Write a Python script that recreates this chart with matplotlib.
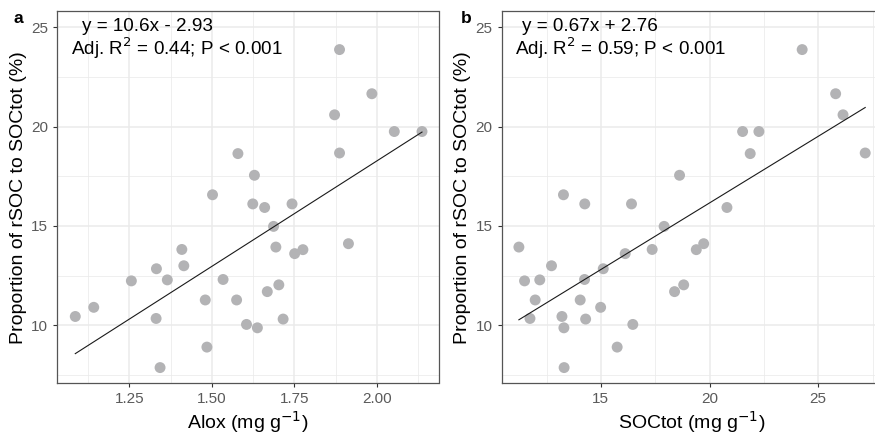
import matplotlib.pyplot as plt
import numpy as np

plt.rcParams["font.family"] = ["Liberation Sans", "DejaVu Sans"]

# samples (same order in all three arrays)
rsoc_pct = np.array([23.87, 21.65, 20.59, 19.75, 19.75, 18.67, 18.64, 17.55, 16.57,
                     16.11, 16.11, 15.93, 14.98, 14.11, 13.94, 13.81, 13.82, 13.61,
                     13.00, 12.85, 12.24, 12.29, 12.31, 12.04, 11.70, 11.28, 11.28,
                     10.91, 10.45, 10.35, 10.32, 10.05, 9.88, 8.91, 7.88])
alox = np.array([1.887, 1.985, 1.872, 2.053, 2.137, 1.887, 1.579, 1.629, 1.502,
                 1.624, 1.743, 1.660, 1.687, 1.914, 1.694, 1.776, 1.409, 1.751,
                 1.415, 1.332, 1.256, 1.365, 1.534, 1.703, 1.668, 1.480, 1.575,
                 1.142, 1.086, 1.331, 1.716, 1.605, 1.638, 1.485, 1.343])
soctot = np.array([24.26, 25.80, 26.14, 21.52, 22.27, 27.16, 21.87, 18.62, 13.28,
                   14.26, 16.41, 20.80, 17.91, 19.73, 11.23, 19.39, 17.36, 16.12,
                   12.73, 15.11, 11.49, 12.19, 14.25, 18.81, 18.39, 11.98, 14.05,
                   14.99, 13.21, 11.74, 14.30, 16.47, 13.30, 15.75, 13.31])

fit_a = (10.6, -2.93)
fit_b = (0.67, 2.76)
eq_a = ["y = 10.6x - 2.93", "Adj. R$^2$ = 0.44; P < 0.001"]
eq_b = ["y = 0.67x + 2.76", "Adj. R$^2$ = 0.59; P < 0.001"]

W, H = 875, 434
fig = plt.figure(figsize=(W / 100, H / 100), dpi=100)

ax_a = fig.add_axes([57.3 / W, (H - 383.3) / H, 381.2 / W, 372.3 / H])
ax_b = fig.add_axes([501.5 / W, (H - 383.3) / H, 381.1 / W, 372.3 / H])


def panel(ax, x, y, fit, eq, xlim, major, minor, xlabel, tag, tag_x, eq_x):
    ax.set_xlim(*xlim)
    ax.set_ylim(7.09, 25.81)
    ax.set_xticks(major)
    ax.set_xticks(minor, minor=True)
    ax.set_yticks([10, 15, 20, 25])
    ax.set_yticks([7.5, 12.5, 17.5, 22.5], minor=True)
    ax.grid(which="major", color="#ebebeb", linewidth=1.1, zorder=0)
    ax.grid(which="minor", color="#ebebeb", linewidth=0.55, zorder=0)
    ax.set_axisbelow(True)
    for s in ax.spines.values():
        s.set_color("#555555")
        s.set_linewidth(0.9)
    ax.tick_params(which="major", length=3, width=0.8, color="#333333",
                   labelsize=11, labelcolor="#5a5a5a", pad=3.5)
    ax.tick_params(which="minor", length=0)

    ax.scatter(x, y, s=62, color="#b3b3b5", edgecolors="none", zorder=3)
    xs = np.array([x.min(), x.max()])
    ax.plot(xs, fit[0] * xs + fit[1], color="#1a1a1a", linewidth=0.8, zorder=4)

    ax.text(eq_x[0], 24.8, eq[0], fontsize=13.6, va="baseline", ha="left")
    ax.text(eq_x[1], 23.62, eq[1], fontsize=13.6, va="baseline", ha="left")

    ax.set_xlabel(xlabel, fontsize=14, labelpad=2)
    ax.set_ylabel("Proportion of rSOC to SOCtot (%)", fontsize=14, labelpad=3)
    ax.text(tag_x, 0.969, tag, transform=ax.transAxes, fontsize=12.5,
            fontweight="bold", va="baseline", ha="left")


panel(ax_a, alox, rsoc_pct, fit_a, eq_a, (1.0315, 2.187),
      [1.25, 1.50, 1.75, 2.00], [1.125, 1.375, 1.625, 1.875, 2.125],
      "Alox (mg g$^{-1}$)", "a", -0.1154, (1.106, 1.073))
ax_a.set_xticklabels(["1.25", "1.50", "1.75", "2.00"])

panel(ax_b, soctot, rsoc_pct, fit_b, eq_b, (10.43, 27.96),
      [15, 20, 25], [12.5, 17.5, 22.5, 27.5],
      "SOCtot (mg g$^{-1}$)", "b", -0.107, (11.38, 11.03))

fig.savefig("out.png", dpi=100)
